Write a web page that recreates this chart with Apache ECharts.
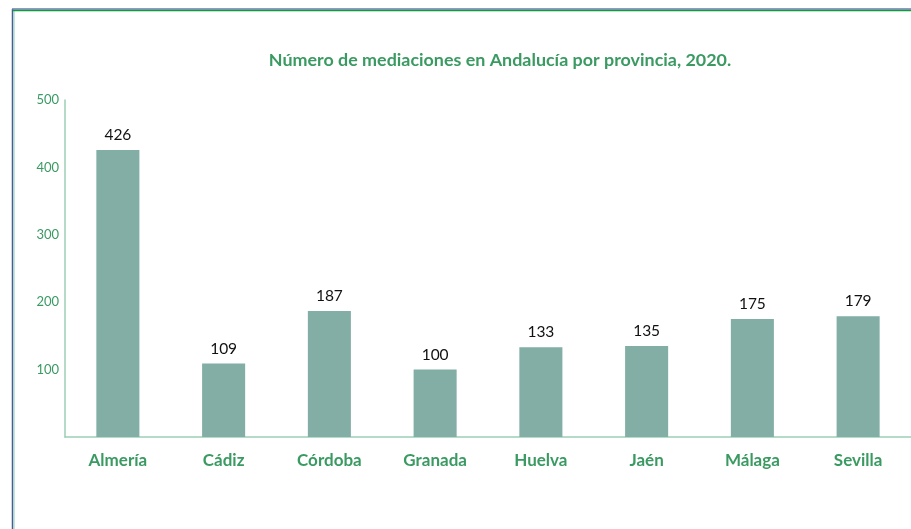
<!DOCTYPE html>
<html><head><meta charset="utf-8">
<script src="https://cdn.jsdelivr.net/npm/echarts@6/dist/echarts.min.js"></script>
<style>html,body{margin:0;padding:0;background:#fff}#c{width:911px;height:529px}</style>
</head><body><div id="c"></div>
<script>
const categories = ['Almería','Cádiz','Córdoba','Granada','Huelva','Jaén','Málaga','Sevilla'];
const values = [426,109,187,100,133,135,175,179];
const yTicks = [0,100,200,300,400,500];
const titleText = 'Número de mediaciones en Andalucía por provincia, 2020.';

const chart = echarts.init(document.getElementById('c'));
chart.setOption({
  animation:false,
  textStyle:{fontFamily:'Lato'},
  title:{text:titleText,left:495,textAlign:'center',top:46,
    textStyle:{fontFamily:'Lato',fontSize:17.9,fontWeight:'bold',color:'#3a9a62'}},
  graphic:[
    {type:'line',shape:{x1:12.5,y1:9,x2:12.5,y2:529},style:{stroke:'#4a5aa0',lineWidth:1.5}},
    {type:'line',shape:{x1:14,y1:10.5,x2:14,y2:529},style:{stroke:'#9ad8b4',lineWidth:1.2}},
    {type:'line',shape:{x1:12,y1:9,x2:911,y2:9},style:{stroke:'#6a7ab0',lineWidth:1.5}},
    {type:'line',shape:{x1:13,y1:10.5,x2:911,y2:10.5},style:{stroke:'#109a3c',lineWidth:1.5}}
  ],
  grid:{left:65,right:0,top:100,bottom:92,containLabel:false},
  xAxis:{type:'category',data:categories,
    axisLine:{lineStyle:{color:'#9ccfb6',width:1.5}},axisTick:{show:false},
    axisLabel:{margin:15,fontFamily:'Lato',fontSize:17,fontWeight:'bold',color:'#3a9a62'}},
  yAxis:{type:'value',min:yTicks[0],max:yTicks[yTicks.length-1],interval:100,
    splitLine:{show:false},axisTick:{show:false},
    axisLine:{show:true,lineStyle:{color:'#9ccfb6',width:1.5}},
    axisLabel:{showMinLabel:false,margin:6,fontFamily:'Lato',fontSize:13,color:'#3a9a62'}},
  series:[{type:'bar',data:values,barWidth:'40.7%',
    itemStyle:{color:'#82aea6'},
    label:{show:true,position:'top',distance:7,color:'#111',fontFamily:'Lato',fontSize:15.5}}]
});
</script></body></html>
